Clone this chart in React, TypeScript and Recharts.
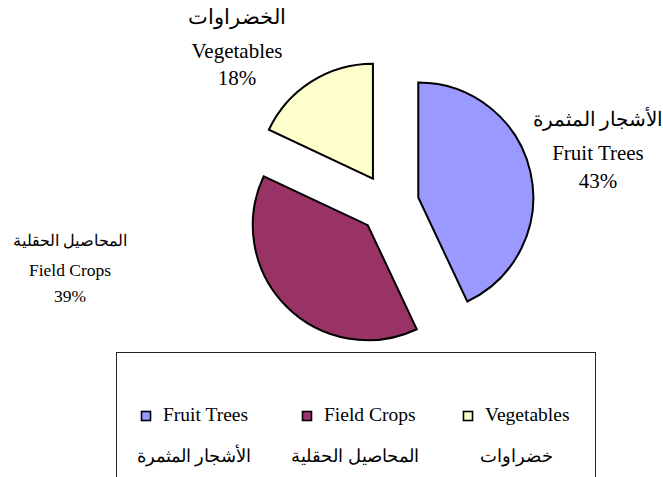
import React from 'react';
import { PieChart, Pie, Legend } from 'recharts';

const categories = ['Fruit Trees', 'Field Crops', 'Vegetables'];
const arabicLabels = ['الأشجار المثمرة', 'المحاصيل الحقلية', 'الخضراوات'];
const legendArabic = ['الأشجار المثمرة', 'المحاصيل الحقلية', 'خضراوات'];
const shares = [43, 39, 18];
const colors = ['#9999FF', '#993366', '#FFFFCC'];

const W = 663;
const H = 477;
const CX = 389;
const CY = 204;
const R = 115;
const EXPLODE = 30;
const START = 90;

const FONT = 'Liberation Serif, Times New Roman, serif';

const labelLayout = [
  { x: 598, y: 126, size: 21, arSize: 19.5, lines: [0, 34, 62] },
  { x: 70, y: 246, size: 17.5, arSize: 16.3, lines: [0, 30, 56] },
  { x: 237, y: 24, size: 21, arSize: 21, lines: [0, 34, 61] },
];

const total = shares.reduce((a, b) => a + b, 0);
const slices = shares.map((v, i) => {
  const before = shares.slice(0, i).reduce((a, b) => a + b, 0);
  const a0 = START - (360 * before) / total;
  const a1 = a0 - (360 * v) / total;
  const mid = ((a0 + a1) / 2) * (Math.PI / 180);
  return {
    data: [{ name: categories[i], value: v }],
    a0,
    a1,
    cx: CX + EXPLODE * Math.cos(mid),
    cy: CY - EXPLODE * Math.sin(mid),
  };
});

const txtStyle = { fontFamily: FONT };

const makeLabel = (i: number) => () => {
  const L = labelLayout[i];
  return (
    <g>
      <text x={L.x} y={L.y + L.lines[0]} textAnchor="middle" style={txtStyle} fontSize={L.arSize} fill="#000">
        {arabicLabels[i]}
      </text>
      <text x={L.x} y={L.y + L.lines[1]} textAnchor="middle" style={txtStyle} fontSize={L.size} fill="#000">
        {categories[i]}
      </text>
      <text x={L.x} y={L.y + L.lines[2]} textAnchor="middle" style={txtStyle} fontSize={L.size} fill="#000">
        {`${Math.round((shares[i] / total) * 100)}%`}
      </text>
    </g>
  );
};

const LegendBox = () => {
  const colW = 161;
  return (
    <svg width={482} height={130} style={{ display: 'block' }}>
      <rect x={0.5} y={0.5} width={479} height={300} fill="#fff" stroke="#222" strokeWidth={1} />
      {categories.map((c, i) => (
        <g key={c}>
          <rect x={i * colW + 25.5} y={59.5} width={9} height={9} fill={colors[i]} stroke="#000" strokeWidth={1.6} />
          <text x={i * colW + 47} y={69} style={txtStyle} fontSize={19.5} fill="#000">
            {c}
          </text>
          <text x={i * colW + 78} y={110} textAnchor="middle" style={txtStyle} fontSize={17.5} fill="#000">
            {legendArabic[i]}
          </text>
        </g>
      ))}
    </svg>
  );
};

export default function App() {
  return (
    <div style={{ position: 'absolute', left: 0, top: 0, width: W, height: H, overflow: 'hidden', background: '#fff' }}>
      <PieChart width={W} height={H} margin={{ top: 0, right: 0, bottom: 0, left: 0 }}>
        {slices.map((s, i) => (
          <Pie
            key={categories[i]}
            data={s.data}
            dataKey="value"
            nameKey="name"
            cx={s.cx}
            cy={s.cy}
            outerRadius={R}
            innerRadius={0}
            startAngle={s.a0}
            endAngle={s.a1}
            fill={colors[i]}
            stroke="#000"
            strokeWidth={2}
            isAnimationActive={false}
            label={makeLabel(i)}
            labelLine={false}
          />
        ))}
        <Legend
          content={() => <LegendBox />}
          wrapperStyle={{ position: 'absolute', left: 116, top: 352, width: 482, height: 130 }}
        />
      </PieChart>
    </div>
  );
}
